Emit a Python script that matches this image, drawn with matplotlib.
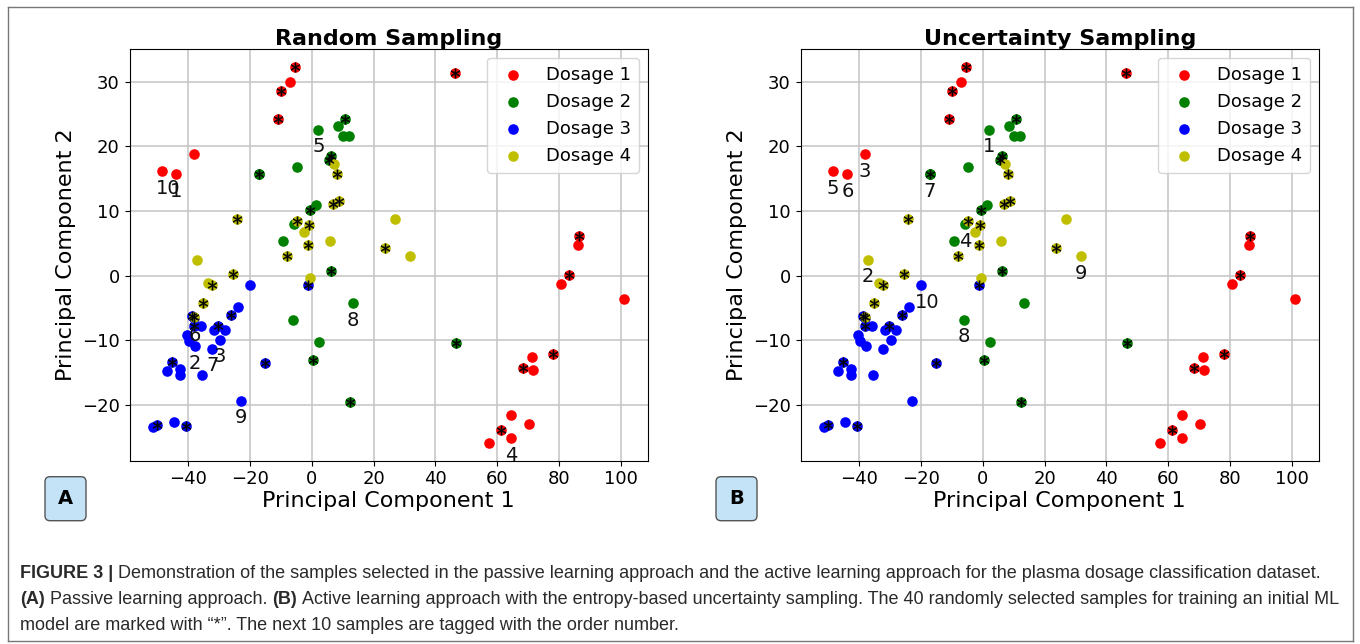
import matplotlib
matplotlib.use("Agg")
import matplotlib.pyplot as plt
from matplotlib import font_manager
from matplotlib.patches import FancyBboxPatch
from matplotlib.lines import Line2D

# ---------------- data (PCA coordinates) ----------------
# Dosage 1 (red)
d1_x = [-5.5, -7.2, -10.0, -10.8, -38.2, -48.6, -43.8, 46.3, 86.5, 86.3, 83.1, 80.6,
        101.1, 77.9, 71.2, 68.5, 71.7, 64.5, 70.4, 61.3, 64.5, 57.3]
d1_y = [32.3, 29.9, 28.5, 24.3, 18.8, 16.2, 15.7, 31.4, 6.1, 4.8, 0.15, -1.3,
        -3.6, -12.1, -12.6, -14.3, -14.6, -21.5, -22.9, -23.9, -25.1, -25.8]
d1_init = [1, 0, 1, 1, 0, 0, 0, 1, 1, 0, 1, 0,
           0, 1, 0, 1, 0, 0, 0, 1, 0, 0]

# Dosage 2 (green)
d2_x = [10.7, 8.6, 10.0, 12.1, 2.1, 6.2, 5.7, -4.8, -17.2, -17.2, 1.3, -0.5,
        -5.7, -9.2, 6.2, 13.2, -6.1, 2.3, 0.4, 12.4, 46.8]
d2_y = [24.2, 23.2, 21.6, 21.6, 22.6, 18.5, 17.9, 16.8, 15.7, 15.7, 11.0, 10.2,
        8.0, 5.3, 0.7, -4.2, -6.8, -10.2, -13.1, -19.5, -10.4]
d2_init = [1, 0, 0, 0, 0, 1, 1, 0, 0, 1, 0, 1,
           0, 0, 1, 0, 0, 0, 1, 1, 1]

# Dosage 3 (blue)
d3_x = [-20.1, -1.1, -24.0, -26.1, -38.0, -38.9, -38.2, -36.0, -30.4, -31.7, -28.2,
        -40.3, -39.8, -37.9, -29.8, -32.2, -45.4, -42.5, -42.5, -47.0, -35.4,
        -15.3, -22.8, -50.2, -51.5, -44.5, -40.8]
d3_y = [-1.5, -1.5, -4.8, -6.0, -6.6, -6.3, -7.7, -7.8, -7.7, -8.4, -8.4,
        -9.2, -10.1, -10.9, -9.9, -11.3, -13.4, -14.4, -15.3, -14.8, -15.3,
        -13.5, -19.3, -23.1, -23.4, -22.6, -23.2]
d3_init = [0, 1, 0, 1, 0, 1, 1, 0, 1, 0, 0,
           0, 0, 0, 0, 0, 1, 0, 0, 0, 0,
           1, 0, 1, 0, 0, 1]

# Dosage 4 (yellow)
d4_x = [7.3, 8.3, 7.0, 8.9, -24.2, -4.8, -0.8, -2.4, 5.9, -1.1, -8.1, -37.1,
        23.6, 26.9, 31.9, -25.5, -33.7, -32.3, -35.3, -38.0, -0.5]
d4_y = [17.3, 15.7, 11.1, 11.5, 8.7, 8.4, 7.9, 6.8, 5.4, 4.7, 3.1, 2.5,
        4.3, 8.8, 3.0, 0.2, -1.1, -1.5, -4.2, -6.4, -0.3]
d4_init = [0, 1, 1, 1, 1, 1, 1, 0, 0, 1, 1, 0,
           1, 0, 0, 1, 0, 1, 1, 1, 0]

series_names = ["Dosage 1", "Dosage 2", "Dosage 3", "Dosage 4"]
series_colors = ["r", "g", "b", "y"]

# next 10 queried samples (order 1..10): coordinates of the tagged points
random_next_x = [-43.8, -37.9, -29.8, 64.5, 2.1, -38.0, -32.2, 13.2, -22.8, -48.6]
random_next_y = [15.7, -10.9, -9.9, -25.1, 22.6, -6.6, -11.3, -4.2, -19.3, 16.2]
uncert_next_x = [2.1, -37.1, -38.2, -5.7, -48.6, -43.8, -17.2, -6.1, 31.9, -20.1]
uncert_next_y = [22.6, 2.5, 18.8, 8.0, 16.2, 15.7, 15.7, -6.8, 3.0, -1.5]

panel_titles = ["Random Sampling", "Uncertainty Sampling"]
panel_letters = ["A", "B"]
x_ticks = [-40, -20, 0, 20, 40, 60, 80, 100]
y_ticks = [-20, -10, 0, 10, 20, 30]

caption_lines = [
    [("FIGURE 3 |", True),
     (" Demonstration of the samples selected in the passive learning approach and the "
      "active learning approach for the plasma dosage classification dataset.", False)],
    [("(A)", True), (" Passive learning approach. ", False), ("(B)", True),
     (" Active learning approach with the entropy-based uncertainty sampling. The 40 "
      "randomly selected samples for training an initial ML", False)],
    [("model are marked with \u201c*\u201d. The next 10 samples are tagged with the order number.",
      False)],
]

# ---------------- figure ----------------
W, H = 1360, 644
fig = plt.figure(figsize=(W / 100, H / 100), dpi=100)

all_series = [(d1_x, d1_y, d1_init), (d2_x, d2_y, d2_init),
              (d3_x, d3_y, d3_init), (d4_x, d4_y, d4_init)]
labels_per_panel = [(random_next_x, random_next_y), (uncert_next_x, uncert_next_y)]
lefts = [129.5 / W, 800.5 / W]
bottom = 1 - 460.7 / H
height = (460.7 - 48.7) / H
width = (648 - 129.5) / W

for p in range(2):
    ax = fig.add_axes([lefts[p], bottom, width, height])
    ax.set_axisbelow(True)
    ax.grid(True, color="#c4c4c4", linewidth=1.1)
    for (xs, ys, _), name, col in zip(all_series, series_names, series_colors):
        ax.scatter(xs, ys, s=58, c=col, label=name, linewidths=0, zorder=2)
    for xs, ys, init in all_series:
        sx = [x for x, f in zip(xs, init) if f]
        sy = [y for y, f in zip(ys, init) if f]
        ax.scatter(sx, sy, s=46, c="k", marker="$*$", linewidths=0.3,
                   edgecolors="k", zorder=3)
    lx, ly = labels_per_panel[p]
    for i, (x, y) in enumerate(zip(lx, ly)):
        ax.annotate(str(i + 1), (x, y), xytext=(-4.5, -5.5), textcoords="offset points",
                    ha="left", va="top", fontsize=14, color="#111111", zorder=4)
    ax.set_xlim(-59.0, 108.8)
    ax.set_ylim(-28.6, 35.1)
    ax.set_xticks(x_ticks)
    ax.set_yticks(y_ticks)
    ax.tick_params(labelsize=13)
    ax.set_xlabel("Principal Component 1", fontsize=16, labelpad=2)
    ax.set_ylabel("Principal Component 2", fontsize=16, labelpad=4)
    ax.set_title(panel_titles[p], fontsize=16, fontweight="bold", pad=3)
    ax.legend(loc="upper right", fontsize=13, scatterpoints=1, handletextpad=0.8,
              borderpad=0.45, labelspacing=0.5)

    # panel letter box
    bx = (45 + p * 671) / 100.0
    by = (H - 520.7) / 100.0
    box = FancyBboxPatch((bx, by), 0.41, 0.44,
                         boxstyle="round,pad=0,rounding_size=0.05",
                         transform=fig.dpi_scale_trans, facecolor="#c4e3f6",
                         edgecolor="#555555", linewidth=1.0, zorder=5)
    fig.patches.append(box)
    fig.text(bx + 0.205, by + 0.22, panel_letters[p], transform=fig.dpi_scale_trans,
             ha="center", va="center", fontsize=14, fontweight="bold", zorder=6)

# outer frame
frame_kw = dict(transform=fig.transFigure, color="#777777", linewidth=1.0)
x0f, x1f = 7.5 / W, 1352.5 / W
y0f, y1f = 1 - 641 / H, 1 - 6.5 / H
fig.lines.extend([
    Line2D([x0f, x1f], [y1f, y1f], **frame_kw),
    Line2D([x0f, x0f], [y0f, y1f], **frame_kw),
    Line2D([x1f, x1f], [y0f, y1f], **frame_kw),
    Line2D([x0f, x1f], [y0f, y0f], **frame_kw),
])

# caption
names = {f.name for f in font_manager.fontManager.ttflist}
cap_family = "Liberation Sans Narrow" if "Liberation Sans Narrow" in names else "Liberation Sans"
renderer = fig.canvas.get_renderer()


def text_width(s, size, bold):
    t = fig.text(0, 0, s, fontsize=size, fontweight="bold" if bold else "normal",
                 family=cap_family)
    w = t.get_window_extent(renderer).width
    t.remove()
    return w


def piece_width(s, size, bold):
    # account for leading / trailing spaces explicitly
    sp = text_width("x x", size, bold) - text_width("xx", size, bold)
    core = s.strip(" ")
    n_lead = len(s) - len(s.lstrip(" "))
    n_trail = len(s) - len(s.rstrip(" "))
    return (text_width(core, size, bold) if core else 0) + sp * (n_lead + n_trail), sp, n_lead


trial = 12.0
x_start = 20.0
line_ends = [1338.0, 1337.0]
scales = []
for line, xe in zip(caption_lines[:2], line_ends):
    lw = sum(piece_width(s, trial, b)[0] for s, b in line)
    scales.append((xe - x_start) / lw)
cap_size = trial * min(scales)

baselines = [578, 604, 630]
for line, yb in zip(caption_lines, baselines):
    xpix = x_start
    for s, b in line:
        w, sp, n_lead = piece_width(s, cap_size, b)
        fig.text((xpix + sp * n_lead) / W, 1 - yb / H, s.strip(" "), fontsize=cap_size,
                 fontweight="bold" if b else "normal", family=cap_family,
                 color="#2a2a2a", va="baseline", ha="left")
        xpix += w

fig.savefig("out.png", dpi=100)
